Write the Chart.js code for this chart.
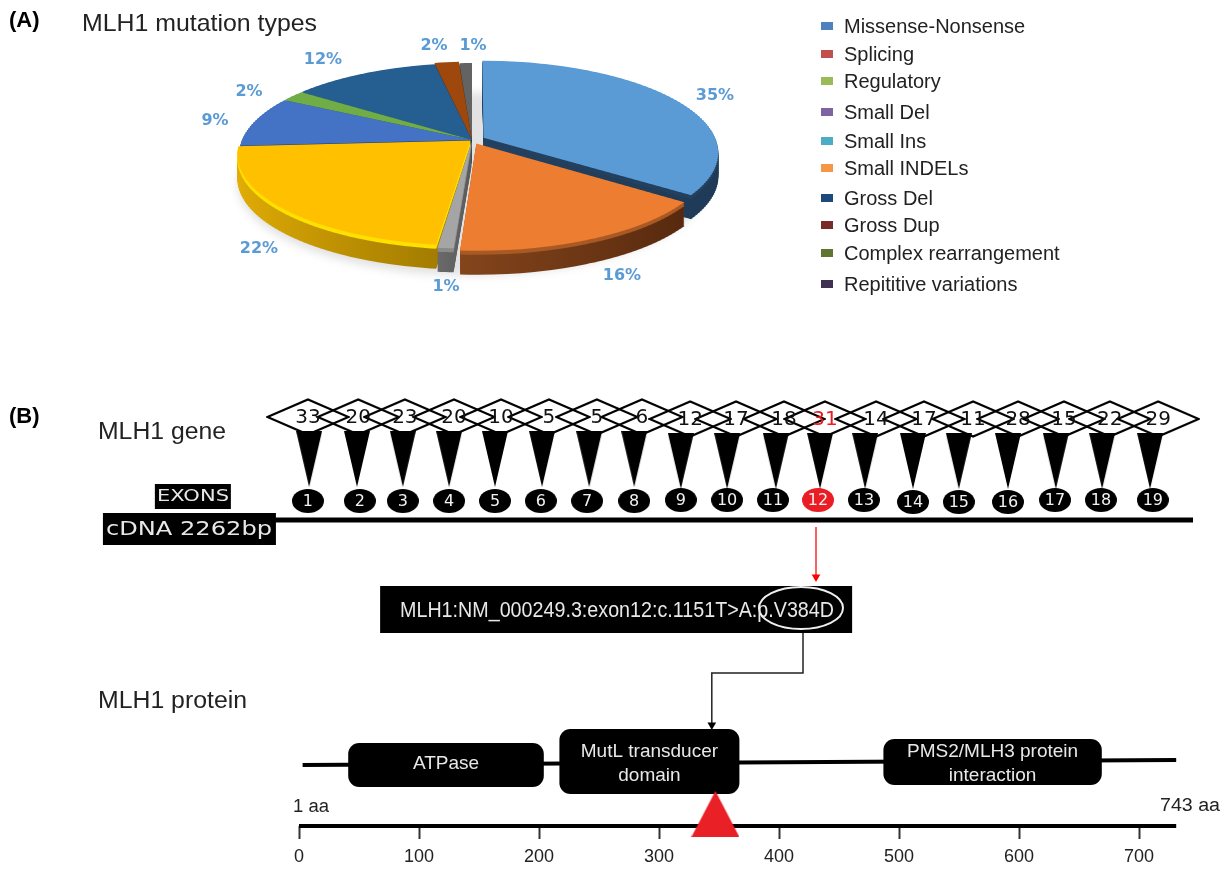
<!DOCTYPE html>
<html><head><meta charset="utf-8">
<style>html,body{margin:0;padding:0;background:#fff;overflow:hidden}
canvas{position:absolute;left:0;top:0}</style>
<script src="https://cdn.jsdelivr.net/npm/chart.js@4/dist/chart.umd.min.js"></script>
</head><body>
<div style="position:absolute;left:0;top:0;width:1224px;height:869px"><canvas id="pie" width="1224" height="869"></canvas></div>
<div style="position:absolute;left:0;top:0;width:1224px;height:869px"><canvas id="gene" width="1224" height="869"></canvas></div>
<script>
// ---------- Panel A data ----------
const pieCategories = ['Missense-Nonsense','Splicing','Regulatory','Small Del','Small Ins','Small INDELs','Gross Del','Gross Dup','Complex rearrangement'];
const pieValues = [35,16,1,22,9,2,12,2,1];
const pieColors = ['#5B9BD5','#ED7D31','#A5A5A5','#FFC000','#4472C4','#70AD47','#255E91','#9E480E','#636363'];
const pieOffsets = [52,40,14,8,0,0,0,10,0];
const wallLeft  = ['#24415F','#84451C','#6A6A6A','#E3AE05','#1F3566','#3F6B24','#1A3F60','#5E2B08','#3A3A3A'];
const wallRight = ['#1E3A56','#57290E','#5A5A5A','#9A7500','#1A2F5C','#3F6B24','#1A3F60','#5E2B08','#3A3A3A'];
const wallRim   = ['#24415F','#A85A25','#8A8A8A','#FFE000','#1F3566','#3F6B24','#1A3F60','#5E2B08','#3A3A3A'];
const pieLabelX = [715,622,446,259,215,249,323,434,473];
const pieLabelY = [96,276,287,249,121,92,60,46,46];
const legendLabels = ['Missense-Nonsense','Splicing','Regulatory','Small Del','Small Ins','Small INDELs','Gross Del','Gross Dup','Complex rearrangement','Repititive variations'];
const legendColors = ['#4F81BD','#C0504D','#9BBB59','#8064A2','#4BACC6','#F79646','#1F497D','#772C2A','#5F7530','#403152'];
const legendRowY = [26,54,81,112,141,168,198,225,253,284];

// ---------- Panel B data ----------
const exonNumbers = [1,2,3,4,5,6,7,8,9,10,11,12,13,14,15,16,17,18,19];
const mutationCounts = [33,20,23,20,10,5,5,6,12,17,18,31,14,17,11,28,15,22,29];
const highlightedExon = 12;
const diamondBp = [81,205,320,441,557,675,793,904,1023,1136,1254,1355,1481,1599,1720,1831,1944,2057,2176];
const pinBp     = [84,202,315,429,542,658,774,885,1000,1114,1234,1343,1454,1572,1685,1806,1924,2038,2156];
const exonBp    = [81,209,315,429,542,655,769,885,1000,1114,1227,1338,1451,1572,1685,1806,1922,2035,2163];
const diamondTrack = [40.9,40.9,40.9,40.9,40.9,40.9,40.9,40.9,40.7,40.7,40.7,40.7,40.7,40.7,40.7,40.7,40.7,40.7,40.7];
const pinTrack     = [36.7,36.7,36.7,36.7,36.7,36.7,36.7,36.7,36.5,36.5,36.5,36.5,36.5,36.5,36.5,36.5,36.5,36.5,36.5];
const exonTrack    = [32.5,32.5,32.5,32.5,32.5,32.5,32.5,32.5,32.6,32.6,32.6,32.6,32.6,32.4,32.4,32.4,32.6,32.6,32.6];
const axisTicks = [0,100,200,300,400,500,600,700];
const domainLabels = [['ATPase'],['MutL transducer','domain'],['PMS2/MLH3 protein','interaction']];
const domainStart = [41,217,487];
const domainEnd   = [204,367,669];
const domainTop   = [8.3,9.7,8.7];
const domainBottom= [3.9,3.2,4.1];
const variantAa = 347;
const cdnaLength = 2262;

const SANS = '"Liberation Sans", Arial, sans-serif';
const WIDE = '"DejaVu Sans", sans-serif';

function txt(ctx, s, x, y, font, color, align, fitW) {
  ctx.save();
  ctx.font = font; ctx.fillStyle = color; ctx.textBaseline = 'middle'; ctx.textAlign = 'left';
  const m = ctx.measureText(s).width;
  const w = fitW || m;
  const left = align === 'center' ? x - w / 2 : x;
  ctx.translate(left, y);
  ctx.scale(w / m, 1);
  ctx.fillText(s, 0, 0);
  ctx.restore();
}

// ---------- Panel A: pie seen in perspective, extruded ----------
const pieCy = 140, persA = 0.386, persB = 0.00067, pieDepth = 24, bandH = 2;
function project(chart, shift, paint) {
  const ctx = chart.ctx, arc0 = chart.getDatasetMeta(0).data[0];
  for (let top = -90; top < 126; top += bandH) {
    const yc = top + bandH / 2;
    const s = 1 + (persB / persA) * yc;
    const planeY = yc / (persA + persB * yc);
    ctx.save();
    ctx.beginPath(); ctx.rect(0, pieCy + shift + top, chart.width, bandH); ctx.clip();
    ctx.translate(arc0.x, pieCy + shift + yc);
    ctx.scale(s, persA * s * s);
    ctx.translate(-arc0.x, -(arc0.y + planeY));
    paint();
    ctx.restore();
  }
}
function paintArc(arc, ctx, color) {
  const saved = arc.options;
  arc.options = Object.assign({}, saved, {backgroundColor: color});
  arc.draw(ctx);
  arc.options = saved;
}
function arcExtentX(arc) {
  let lo = 0, hi = 0;
  for (let t = 0; t <= 1.0001; t += 0.05) {
    const v = Math.cos(arc.startAngle + (arc.endAngle - arc.startAngle) * t) * arc.outerRadius;
    lo = Math.min(lo, v); hi = Math.max(hi, v);
  }
  return [arc.x + lo, arc.x + hi];
}
const piePlugin = {
  id: 'pieProjection',
  beforeDatasetDraw() { return false; },
  afterDatasetsDraw(chart) {
    const ctx = chart.ctx, arcs = chart.getDatasetMeta(0).data;
    const cx = arcs[0].x, R = arcs[0].outerRadius;
    const index = arcs.map((a, i) => i).sort((a, b) => {
      const mid = i => (arcs[i].startAngle + arcs[i].endAngle) / 2;
      return Math.sin(mid(a)) - Math.sin(mid(b));
    });
    // soft ground shadow
    ctx.save(); ctx.filter = 'blur(4px)'; ctx.fillStyle = '#E2E2E2';
    ctx.beginPath(); ctx.ellipse(cx, pieCy + 14 + pieDepth + 6, R * 1.02, R * persA * 1.03, 0, 0, Math.PI * 2); ctx.fill();
    ctx.restore();
    // walls
    index.forEach(i => {
      const [lo, hi] = arcExtentX(arcs[i]);
      const g = ctx.createLinearGradient(lo, 0, hi, 0);
      g.addColorStop(0, wallLeft[i]); g.addColorStop(1, wallRight[i]);
      for (let d = pieDepth; d >= 1; d--) {
        const c = d <= 4 ? wallRim[i] : g;
        project(chart, d, () => paintArc(arcs[i], ctx, c));
      }
    });
    // top faces
    index.forEach(i => project(chart, 0, () => paintArc(arcs[i], ctx, pieColors[i])));
  },
  afterDraw(chart) {
    const ctx = chart.ctx;
    txt(ctx, '(A)', 9, 21, 'bold 22px ' + SANS, '#000');
    txt(ctx, 'MLH1 mutation types', 82, 24, '24px ' + SANS, '#222', 'left', 235);
    pieValues.forEach((v, i) => txt(ctx, v + '%', pieLabelX[i], pieLabelY[i], 'bold 16px ' + WIDE, '#5B9BD5', 'center'));
    legendLabels.forEach((s, i) => {
      ctx.fillStyle = legendColors[i];
      ctx.fillRect(821, legendRowY[i] - 4, 12, 8);
      txt(ctx, s, 844, legendRowY[i] + 1, '20px ' + SANS, '#222');
    });
  }
};
new Chart(document.getElementById('pie'), {
  type: 'pie',
  data: {labels: pieCategories, datasets: [{data: pieValues, backgroundColor: pieColors, borderWidth: 0, offset: pieOffsets, radius: 230, clip: false}]},
  options: {
    responsive: false, animation: false, events: [],
    layout: {padding: {left: 232, right: 512, top: 0, bottom: 389}},
    plugins: {legend: {display: false}, tooltip: {enabled: false}}
  },
  plugins: [piePlugin]
});

// ---------- Panel B ----------
function markCanvas(w, h, paint) {
  const c = document.createElement('canvas');
  c.width = w; c.height = h;
  paint(c.getContext('2d'), w, h);
  return c;
}
const diamondMark = markCanvas(84, 38, (c, w, h) => {
  c.strokeStyle = '#000'; c.lineWidth = 2.2;
  c.beginPath(); c.moveTo(1.5, h / 2); c.lineTo(w / 2, 1.5); c.lineTo(w - 1.5, h / 2); c.lineTo(w / 2, h - 1.5); c.closePath(); c.stroke();
});
const pinMark = markCanvas(26, 56, (c, w, h) => {
  c.fillStyle = '#000';
  c.beginPath(); c.moveTo(0, 0); c.lineTo(w, 0); c.lineTo(w / 2, h); c.closePath(); c.fill();
});
const ellipseMark = color => markCanvas(32, 24, (c, w, h) => {
  c.fillStyle = color;
  c.beginPath(); c.ellipse(w / 2, h / 2, w / 2, h / 2, 0, 0, Math.PI * 2); c.fill();
});
const exonBlack = ellipseMark('#000'), exonRed = ellipseMark('#EA1C24');
const variantMark = markCanvas(48, 46, (c, w, h) => {
  c.fillStyle = '#EA2027';
  c.beginPath(); c.moveTo(w / 2, 0); c.lineTo(w, h); c.lineTo(0, h); c.closePath(); c.fill();
});

const annotate = {
  id: 'annotate',
  beforeDatasetsDraw(chart) {
    const ctx = chart.ctx, {x, xGene, y} = chart.scales;
    ctx.save();
    ctx.fillStyle = '#000';
    ctx.fillRect(xGene.getPixelForValue(-424), y.getPixelForValue(31.3), 173, 32);
    ctx.fillRect(xGene.getPixelForValue(-296), y.getPixelForValue(34.2), 76, 25);
    ctx.fillRect(xGene.getPixelForValue(259), y.getPixelForValue(24.0), 472, 47);
    domainStart.forEach((s, i) => {
      const l = x.getPixelForValue(s), r = x.getPixelForValue(domainEnd[i]);
      const t = y.getPixelForValue(domainTop[i]), b = y.getPixelForValue(domainBottom[i]);
      ctx.beginPath(); ctx.roundRect(l, t, r - l, b - t, 11); ctx.fill();
    });
    ctx.restore();
  },
  afterDatasetsDraw(chart) {
    const ctx = chart.ctx, {x, xGene, y} = chart.scales;
    txt(ctx, '(B)', 9, 417, 'bold 22px ' + SANS, '#000');
    txt(ctx, 'MLH1 gene', 98, 433, '23px ' + SANS, '#222', 'left', 128);
    txt(ctx, 'MLH1 protein', 98, 702, '23px ' + SANS, '#222', 'left', 149);
    txt(ctx, 'EXONS', 193, 497, '15px ' + WIDE, '#E8E8E8', 'center', 72);
    txt(ctx, 'cDNA ' + cdnaLength + 'bp', 189, 530, '20px ' + WIDE, '#E8E8E8', 'center', 166);
    txt(ctx, 'MLH1:NM_000249.3:exon12:c.1151T>A:p.V384D', 400, 611, '22px ' + SANS, '#E8E8E8', 'left', 434);
    ctx.save();
    ctx.strokeStyle = '#EEE'; ctx.lineWidth = 2;
    ctx.beginPath(); ctx.ellipse(801, 608, 42, 21, 0, 0, Math.PI * 2); ctx.stroke();
    ctx.restore();
    txt(ctx, '1 aa', 293, 807, '18px ' + SANS, '#222', 'left', 36);
    txt(ctx, '743 aa', 1160, 806, '18px ' + SANS, '#222', 'left', 60);
    mutationCounts.forEach((v, i) => {
      const red = exonNumbers[i] === highlightedExon;
      txt(ctx, String(v), xGene.getPixelForValue(diamondBp[i]), y.getPixelForValue(diamondTrack[i]) + 1, '20px ' + WIDE, red ? '#EA1C24' : '#111', 'center');
      txt(ctx, String(exonNumbers[i]), xGene.getPixelForValue(exonBp[i]), y.getPixelForValue(exonTrack[i]) + 1, '16px ' + WIDE, '#F2F2F2', 'center');
    });
    domainLabels.forEach((lines, i) => {
      const c = x.getPixelForValue((domainStart[i] + domainEnd[i]) / 2);
      lines.forEach((s, j) => {
        const py = lines.length === 1 ? 764 : 752 + j * 24;
        txt(ctx, s, c, py, '19px ' + SANS, '#E8E8E8', 'center');
      });
    });
  }
};

function seg(points, xAxisID, color, width, extra) {
  return Object.assign({type: 'scatter', data: points, xAxisID, showLine: true, borderColor: color, backgroundColor: color,
    borderWidth: width, pointRadius: 0, clip: false, order: 5}, extra || {});
}
const zip = (xs, ys) => xs.map((v, i) => ({x: v, y: ys[i]}));

new Chart(document.getElementById('gene'), {
  type: 'scatter',
  data: {datasets: [
    seg([{x: 0, y: 30.6}, {x: cdnaLength, y: 30.6}], 'xGene', '#000', 5),
    seg([{x: 3, y: 6.1}, {x: 731, y: 6.6}], 'x', '#000', 4),
    seg([{x: 0, y: 0}, {x: 731, y: 0}], 'x', '#000', 4),
    seg([{x: 1333, y: 29.9}, {x: 1333, y: 24.9}], 'xGene', '#F23030', 1.5, {pointRadius: [0, 5], pointStyle: 'triangle', pointRotation: 180, pointBackgroundColor: '#F00', pointBorderWidth: 0}),
    seg([{x: 420, y: 19.3}, {x: 420, y: 15.3}, {x: 344, y: 15.3}, {x: 344, y: 10.1}], 'x', '#222', 1.5, {pointRadius: [0, 0, 0, 5], pointStyle: 'triangle', pointRotation: 180, pointBackgroundColor: '#000', pointBorderWidth: 0}),
    {type: 'scatter', data: zip(diamondBp, diamondTrack), xAxisID: 'xGene', pointStyle: diamondMark, pointRadius: 10, clip: false, order: 3},
    {type: 'scatter', data: zip(pinBp, pinTrack), xAxisID: 'xGene', pointStyle: pinMark, pointRadius: 10, clip: false, order: 3},
    {type: 'scatter', data: zip(exonBp, exonTrack), xAxisID: 'xGene', pointStyle: exonNumbers.map(n => n === highlightedExon ? exonRed : exonBlack), pointRadius: 10, clip: false, order: 3},
    {type: 'scatter', data: [{x: variantAa, y: 1.2}], xAxisID: 'x', pointStyle: variantMark, pointRadius: 10, clip: false, order: 1}
  ]},
  options: {
    responsive: false, animation: false, events: [],
    layout: {autoPadding: false, padding: {left: 0, right: 0, top: 0, bottom: 0}},
    plugins: {legend: {display: false}, tooltip: {enabled: false}},
    scales: {
      x: {
        type: 'linear', position: 'bottom', min: -249.17, max: 770.83,
        afterBuildTicks: s => { s.ticks = axisTicks.map(v => ({value: v})); },
        afterFit: s => { s.height = 43; },
        grid: {display: true, drawOnChartArea: false, drawTicks: true, tickLength: 13, tickWidth: 2, tickColor: '#333'},
        border: {display: false},
        ticks: {autoSkip: false, maxRotation: 0, padding: 7, color: '#222', font: {family: 'Liberation Sans', size: 18}}
      },
      xGene: {type: 'linear', display: false, position: 'top', min: -677.6, max: 2338.3},
      y: {type: 'linear', display: false, min: 0, max: 82.6}
    }
  },
  plugins: [annotate]
});
</script>
</body></html>
